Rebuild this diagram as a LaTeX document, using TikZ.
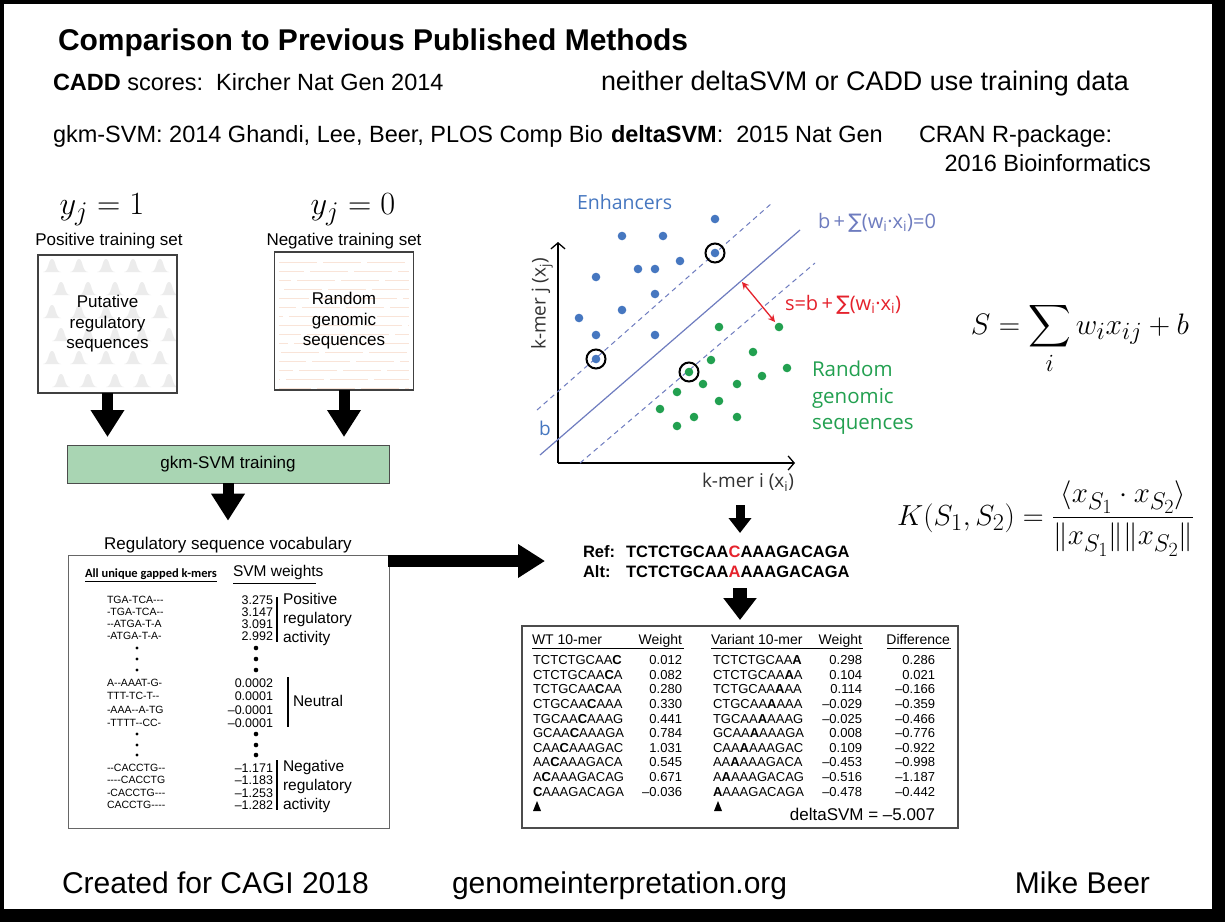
\documentclass[tikz,border=0pt]{standalone}
\usepackage{amsmath}
\usepackage{exscale}
\usepackage[no-math]{fontspec}
\setmainfont{Liberation Sans}
\newfontfamily\plotfont{Open Sans}
\newfontfamily\symfont{DejaVu Sans}
\newfontfamily\labfont{Carlito}
\newfontfamily\seqfont{Liberation Sans}
\usetikzlibrary{positioning,arrows.meta,calc}
\usepackage{xcolor}
\definecolor{traingreen}{HTML}{A9D5B3}
\definecolor{enhblue}{HTML}{4677C0}
\definecolor{randgreen}{HTML}{22A050}
\definecolor{planeblue}{HTML}{6E7CBF}
\definecolor{marginred}{HTML}{E5222C}
\definecolor{negline}{HTML}{F9E4D8}
\newcommand{\fsz}[1]{\fontsize{#1}{#1}\selectfont}

\begin{document}
\begin{tikzpicture}[x=1pt,y=-1pt,
  every node/.style={inner sep=0pt,outer sep=0pt},
  blockarrow/.style={line width=11pt,-{Triangle[length=27pt,width=32pt]}},
  setbox/.style={draw=black!75,line width=1.2pt,minimum width=139pt,minimum height=138pt},
  axis/.style={line width=1.3pt,-{Straight Barb[length=6pt,width=14pt]}},
  enh/.style={fill=enhblue},
  rnd/.style={fill=randgreen}]
% slide frame
\fill[black] (0,0) rectangle (1225,922);
\fill[white] (4,4) rectangle (1212,909);
\useasboundingbox (0,0) rectangle (1225,922);

% header
\node[anchor=base west,font=\fsz{30}\bfseries] (title) at (58,50) {Comparison to Previous Published Methods};
\node[anchor=base west,font=\fsz{23.5}] (cadd) at (53,90) {\textbf{CADD} scores:\ \ Kircher Nat Gen 2014};
\node[anchor=base west,font=\fsz{26.9}] (neither) at (601,90) {neither deltaSVM or CADD use training data};
\node[anchor=base west,font=\fsz{23.5}] (gkm) at (53,142) {gkm-SVM: 2014 Ghandi, Lee, Beer, PLOS Comp Bio};
\node[anchor=base west,font=\fsz{23.5}] (dsvm) at (611,142) {\textbf{deltaSVM}:\ \ 2015 Nat Gen};
\node[anchor=base west,font=\fsz{23.5}] (cran) at (919,142) {CRAN R-package:};
\node[anchor=base east,font=\fsz{23.5}] (bioinf) at (1151,171) {2016 Bioinformatics};

% training sets
\node[anchor=base,font=\fsz{24.88},scale=1.3] (ypos) at (102,214) {$y_j = 1$};
\node[anchor=base,font=\fsz{24.88},scale=1.3] (yneg) at (353,214) {$y_j = 0$};
\node[anchor=base,font=\fsz{17}] (poslab) at (109,245) {Positive training set};
\node[anchor=base,font=\fsz{17}] (neglab) at (344,245) {Negative training set};
\foreach \r in {0,...,5}
  \foreach \c in {0,...,4} {
    \pgfmathsetmacro\bx{52+\c*27+mod(\r,2)*9}
    \pgfmathsetmacro\by{272+\r*23}
    \fill[gray!15] (\bx-9,\by) .. controls (\bx-3,\by) and (\bx-4,\by-13) .. (\bx,\by-13)
      .. controls (\bx+4,\by-13) and (\bx+3,\by) .. (\bx+9,\by) -- cycle;
  }
\foreach \k in {0,...,14}
  \draw[negline,line width=1pt,dash pattern=on 38pt off 6pt,dash phase=\k*13] (279,262+\k*9) -- (409,262+\k*9);
\node[setbox,font={\fontsize{17}{20.5}\selectfont},align=center] (pos) at (107.5,324) {Putative\\regulatory\\sequences};
\node[setbox,font={\fontsize{17}{20.5}\selectfont},align=center] (neg) at (344,321) {Random\\genomic\\sequences};
\node[draw=black!70,line width=1pt,fill=traingreen,minimum width=322pt,minimum height=38pt,font=\fsz{17}] (train) at (228,464) {gkm-SVM training};
\draw[blockarrow,shorten >=8pt] (pos.south) -- (pos.south |- train.north);
\draw[blockarrow,shorten >=8pt] (neg.south) -- (neg.south |- train.north);

% vocabulary
\node[anchor=base,font=\fsz{17}] (vtitle) at (228,549) {Regulatory sequence vocabulary};
\draw[blockarrow,shorten >=16pt] (train.south) -- (train.south |- vtitle.north);
\node[draw=black!60,line width=1pt,minimum width=321pt,minimum height=273pt] (vocab) at (228.5,691.5) {};
\node[anchor=west,font=\labfont\fsz{12.5}\bfseries] (allk) at (85,575) {\underline{All unique gapped k-mers}};
\node[anchor=west,font=\fsz{15.5}] (svmw) at (233,572) {SVM weights};
\draw[line width=1pt] (233,583) -- (316,583);
\foreach \km/\wt/\y in {TGA-TCA---/3.275/600, -TGA-TCA--/3.147/612, --ATGA-T-A/3.091/624, -ATGA-T-A-/2.992/636,
    A--AAAT-G-/0.0002/683, TTT-TC-T--/0.0001/696, -AAA--A-TG/–0.0001/710, -TTTT--CC-/–0.0001/723,
    --CACCTG--/–1.171/768, ----CACCTG/–1.183/780, -CACCTG---/–1.253/793, CACCTG----/–1.282/805} {
  \node[anchor=base west,font=\seqfont\fsz{10.5}] (km\y) at (107,\y+3.8) {\km};
  \node[anchor=base east,font=\fsz{12.5}] (wt\y) at (273,\y+4.5) {\wt};
}
\foreach \y in {648,659,670,734,745,755} {
  \fill (137,\y) circle (1.6pt);
  \fill (256,\y) circle (2.3pt);
}
\draw[line width=1.3pt] (277,597) -- (277,642);
\draw[line width=1.3pt] (288,677) -- (288,727);
\draw[line width=1.3pt] (277,760) -- (277,810);
\node[anchor=west,align=left,font={\fontsize{15.5}{19}\selectfont}] (poslbl) at (283,619) {Positive\\regulatory\\activity};
\node[anchor=west,font=\fsz{15.5}] (neulbl) at (293,701) {Neutral};
\node[anchor=west,align=left,font={\fontsize{15.5}{19}\selectfont}] (neglbl) at (283,786) {Negative\\regulatory\\activity};
\coordinate (vocout) at (388,561);
\coordinate (seqin) at (545,561);
\draw[line width=12pt,-{Triangle[length=27pt,width=32pt]}] (vocout) -- (seqin);

% SVM plot
\coordinate (org) at (558,463);
\coordinate (ytop) at (558,242);
\coordinate (xtip) at (795,463);
\draw[axis] (org) -- (ytop);
\draw[axis] (org) -- (xtip);
\draw[planeblue,line width=1.2pt] (540,455) -- (800,230);
\draw[planeblue,line width=1pt,dash pattern=on 5pt off 4pt] (537,410) -- (772,203);
\draw[planeblue,line width=1pt,dash pattern=on 5pt off 4pt] (580,463) -- (815,263);
\foreach \px/\py in {715/219,622/236,663/236,715/253,680/261,638/269,655/269,596/277,
    655/294,622/310,579/318,596/335,655/335,596/359}
  \fill[enh] (\px,\py) circle (4.3pt);
\foreach \px/\py in {719/327,779/327,753/352,711/360,787/368,689/372,762/376,703/384,
    737/384,677/392,719/401,660/409,694/417,737/417,677/426}
  \fill[rnd] (\px,\py) circle (4.3pt);
\foreach \px/\py in {715/253,596/359,689/372}
  \draw[line width=2pt] (\px,\py) circle (9.5pt);
\draw[marginred,line width=1.3pt,{Stealth[length=7pt,width=7pt]}-{Stealth[length=7pt,width=7pt]}] (742,282) -- (775,322);
\node[anchor=west,font=\plotfont\fsz{19.5},text=enhblue] (enhlbl) at (577,202) {Enhancers};
\node[anchor=west,align=left,font={\plotfont\fontsize{20.5}{26.5}\selectfont},text=randgreen] (rndlbl) at (812,398) {Random\\genomic\\sequences};
\node[anchor=west,font=\plotfont\fsz{20},text=planeblue] (hyper) at (818,223) {b\,+\,{\symfont∑}(w\textsubscript{i}·x\textsubscript{i})=0};
\node[anchor=west,font=\plotfont\fsz{20},text=marginred] (margin) at (785,305) {s=b\,+\,{\symfont∑}(w\textsubscript{i}·x\textsubscript{i})};
\node[anchor=west,font=\plotfont\fsz{19},text=black!80] (kmi) at (702,482) {k-mer i (x\textsubscript{i})};
\node[rotate=90,font=\plotfont\fsz{19},text=black!80] (kmj) at (542,304) {k-mer j (x\textsubscript{j})};
\node[font=\plotfont\fsz{19},text=enhblue] (bint) at (545,428) {b};
\coordinate (pltout) at (740,505);
\coordinate (refin) at (740,533);
\draw[line width=9pt,-{Triangle[length=15pt,width=22pt]}] (pltout) -- (refin);

% variant
\node[anchor=base west,font=\fsz{16.5}\bfseries] (refl) at (583,557) {Ref:};
\node[anchor=base west,font=\fsz{16.5}\bfseries] (refs) at (626,557) {TCTCTGCAA\textcolor{marginred}{C}AAAGACAGA};
\node[anchor=base west,font=\fsz{16.5}\bfseries] (altl) at (583,577) {Alt:};
\node[anchor=base west,font=\fsz{16.5}\bfseries] (alts) at (626,577) {TCTCTGCAA\textcolor{marginred}{A}AAAGACAGA};
\node[draw=black!70,line width=1.5pt,minimum width=436pt,minimum height=202pt] (tbl) at (740,727) {};
\coordinate (seqout) at (740,588);
\draw[line width=14pt,-{Triangle[length=22pt,width=32pt]},shorten >=6pt] (seqout) -- (seqout |- tbl.north);

% table
\node[anchor=base west,font=\fsz{14}] (h1) at (532,644) {WT 10-mer};
\node[anchor=base east,font=\fsz{14}] (h2) at (682,644) {Weight};
\node[anchor=base west,font=\fsz{14}] (h3) at (711,644) {Variant 10-mer};
\node[anchor=base east,font=\fsz{14}] (h4) at (862,644) {Weight};
\node[anchor=base east,font=\fsz{14}] (h5) at (950,644) {Difference};
\draw[line width=1pt] (532,648) -- (684,648);
\draw[line width=1pt] (711,648) -- (863,648);
\draw[line width=1pt] (887,648) -- (951,648);
\foreach \pre/\post/\wa/\wb/\df [count=\r from 0] in {
    TCTCTGCAA//0.012/0.298/0.286,
    CTCTGCAA/A/0.082/0.104/0.021,
    TCTGCAA/AA/0.280/0.114/–0.166,
    CTGCAA/AAA/0.330/–0.029/–0.359,
    TGCAA/AAAG/0.441/–0.025/–0.466,
    GCAA/AAAGA/0.784/0.008/–0.776,
    CAA/AAAGAC/1.031/0.109/–0.922,
    AA/AAAGACA/0.545/–0.453/–0.998,
    A/AAAGACAG/0.671/–0.516/–1.187,
    /AAAGACAGA/–0.036/–0.478/–0.442} {
  \pgfmathsetmacro\ry{664.7+14.6*\r}
  \node[anchor=base west,font=\fsz{13}] (wtk\r) at (533,\ry) {\pre\textbf{C}\post};
  \node[anchor=base east,font=\fsz{13}] (wtw\r) at (682,\ry) {\wa};
  \node[anchor=base west,font=\fsz{13}] (vak\r) at (713,\ry) {\pre\textbf{A}\post};
  \node[anchor=base east,font=\fsz{13}] (vaw\r) at (862,\ry) {\wb};
  \node[anchor=base east,font=\fsz{13}] (dif\r) at (935,\ry) {\df};
}
\fill (533,811) -- (541,811) -- (537,801) -- cycle;
\fill (714,811) -- (722,811) -- (718,801) -- cycle;
\node[anchor=east,font=\fsz{17}] (dsvmval) at (935,814) {deltaSVM = –5.007};

% formulas
\node[anchor=base,font=\fsz{24.88},scale=1.19] (sform) at (1080,334) {$\displaystyle S=\sum_i w_i x_{ij}+b$};
\node[anchor=base,font=\fsz{24.88},scale=1.165] (kform) at (1046,525) {$\displaystyle K(S_1,S_2)=\frac{\langle x_{S_1}\cdot x_{S_2}\rangle}{\lVert x_{S_1}\rVert\lVert x_{S_2}\rVert}$};

% footer
\node[anchor=base west,font=\fsz{30}] (cagi) at (62,893) {Created for CAGI 2018};
\node[anchor=base west,font=\fsz{30}] (web) at (452,893) {genomeinterpretation.org};
\node[anchor=base east,font=\fsz{30}] (author) at (1150,893) {Mike Beer};
\end{tikzpicture}
\end{document}
